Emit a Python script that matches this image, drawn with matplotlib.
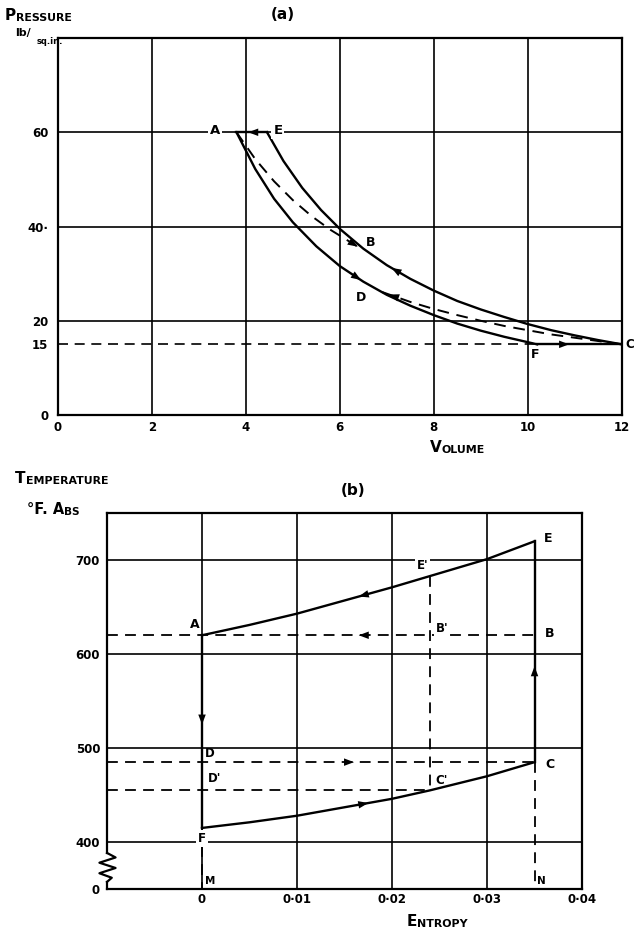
import numpy as np
import matplotlib.pyplot as plt

plt.rcParams['font.weight'] = 'bold'

# ---- (a) pressure / volume diagram ----
vol_ticks = [0, 2, 4, 6, 8, 10, 12]
vol_grid = [2, 4, 6, 8, 10]
p_grid = [20, 40, 60]
p_ticks = [0, 15, 20, 40, 60]
p_tick_labels = ['0', '15', '20', '40·', '60']
p_low = 15

# A -> F (lower full curve)
af_v = [3.8, 4.2, 4.6, 5.0, 5.5, 6.0, 6.5, 7.0, 7.5, 8.0, 8.5, 9.0, 9.5, 10.2]
af_p = [60, 52.2, 45.9, 40.9, 35.8, 31.6, 28.3, 25.5, 23.2, 21.2, 19.4, 17.9, 16.6, 15]
# C -> B -> E (upper full curve)
ec_v = [4.45, 4.8, 5.2, 5.6, 6.0, 6.5, 7.0, 7.5, 8.0, 8.5, 9.0, 9.5, 10.0, 10.5, 11.0, 11.5, 12.0]
ec_p = [60, 53.9, 48.2, 43.5, 39.5, 35.3, 31.8, 28.9, 26.4, 24.2, 22.4, 20.8, 19.3, 18.0, 16.9, 15.9, 15]
# A -> B and C -> D (dashed)
ab_v = [3.8, 4.2, 4.6, 5.0, 5.4, 5.8, 6.4]
ab_p = [60, 54.3, 49.6, 45.6, 42.2, 39.3, 35.6]
dc_v = [6.9, 7.5, 8.0, 8.5, 9.0, 9.5, 10.0, 10.5, 11.0, 11.5, 12.0]
dc_p = [26.1, 24.0, 22.5, 21.2, 20.0, 18.9, 18.0, 17.1, 16.4, 15.7, 15]
# E -> A and F -> C
ea_v = [4.45, 3.8]
ea_p = [60, 60]
fc_v = [10.2, 12.0]
fc_p = [15, 15]

# ---- (b) temperature / entropy diagram ----
s_grid = [0, 0.01, 0.02, 0.03]
s_ticks = [0, 0.01, 0.02, 0.03, 0.04]
s_tick_labels = ['0', '0·01', '0·02', '0·03', '0·04']
t_grid = [400, 500, 600, 700]
t_ticks = [350, 400, 500, 600, 700]
t_tick_labels = ['0', '400', '500', '600', '700']

ae_s = [0, 0.005, 0.01, 0.015, 0.02, 0.024, 0.03, 0.035]
ae_t = [620, 631, 643, 657, 671, 683, 701, 720]
fc_s = [0, 0.005, 0.01, 0.015, 0.02, 0.024, 0.03, 0.035]
fc_t = [415, 421, 428, 437, 446, 455, 470, 485]
s_left = -0.01
s_a, s_c, s_c2 = 0, 0.035, 0.024
t_a, t_f, t_c, t_e, t_e2, t_c2 = 620, 415, 485, 720, 683, 455

LW = 1.7
GW = 1.2
DASH = (0, (6, 4))

fig = plt.figure(figsize=(6.37, 9.32), dpi=100)
ax1 = fig.add_axes([0.091, 0.5547, 0.885, 0.4045])
ax2 = fig.add_axes([0.168, 0.0461, 0.7457, 0.4034])


def arrow(ax, xs, ys, x_tail, x_tip, size=9):
    xs = np.asarray(xs, float)
    ys = np.asarray(ys, float)
    o = np.argsort(xs)
    y0 = np.interp(x_tail, xs[o], ys[o])
    y1 = np.interp(x_tip, xs[o], ys[o])
    ax.annotate('', xy=(x_tip, y1), xytext=(x_tail, y0),
                arrowprops=dict(arrowstyle='-|>,head_length=0.8,head_width=0.3',
                                color='black', lw=0, shrinkA=0, shrinkB=0,
                                mutation_scale=size), zorder=5)


def varrow(ax, x, y_tail, y_tip, size=9):
    ax.annotate('', xy=(x, y_tip), xytext=(x, y_tail),
                arrowprops=dict(arrowstyle='-|>,head_length=0.8,head_width=0.3',
                                color='black', lw=0, shrinkA=0, shrinkB=0,
                                mutation_scale=size), zorder=5)


def caps(ax, x, y, big, small, size=11):
    t = fig.text(x, y, big, fontsize=size, ha='left', va='baseline')
    ax.annotate(small, xy=(1, 0), xycoords=t, ha='left', va='bottom',
                fontsize=size * 0.72, annotation_clip=False)


def label(ax, x, y, s, bg=True, size=9):
    kw = dict(boxstyle='square,pad=0.15', fc='white', ec='none') if bg else None
    ax.text(x, y, s, fontsize=size, ha='center', va='center', bbox=kw, zorder=4)


# ---------- (a) ----------
ax1.set_xlim(0, 12)
ax1.set_ylim(0, 80)
for v in vol_grid:
    ax1.axvline(v, color='black', lw=GW, zorder=1)
for p in p_grid:
    ax1.axhline(p, color='black', lw=GW, zorder=1)
ax1.plot([0, 12], [p_low, p_low], color='black', lw=1.2, ls=DASH, zorder=2)
ax1.plot(af_v, af_p, color='black', lw=LW, zorder=3)
ax1.plot(ec_v, ec_p, color='black', lw=LW, zorder=3)
ax1.plot(ea_v, ea_p, color='black', lw=LW, zorder=3)
ax1.plot(fc_v, fc_p, color='black', lw=LW, zorder=3)
ax1.plot(ab_v, ab_p, color='black', lw=1.4, ls=DASH, zorder=3)
ax1.plot(dc_v, dc_p, color='black', lw=1.4, ls=DASH, zorder=3)

arrow(ax1, ea_v, ea_p, 4.35, 4.05)
arrow(ax1, af_v, af_p, 6.2, 6.45)
arrow(ax1, ab_v, ab_p, 6.1, 6.38)
arrow(ax1, ec_v, ec_p, 7.4, 7.1)
arrow(ax1, dc_v, dc_p, 7.35, 7.05)
arrow(ax1, fc_v, fc_p, 10.6, 10.88)

label(ax1, 3.35, 60.3, 'A', size=9.5)
label(ax1, 4.68, 60.3, 'E', size=9.5)
label(ax1, 6.65, 36.6, 'B', bg=False)
label(ax1, 6.45, 25.0, 'D', bg=False)
label(ax1, 10.15, 12.8, 'F', bg=False)
ax1.text(12.08, 15, 'C', fontsize=8.5, ha='left', va='center', clip_on=False)

ax1.set_xticks(vol_ticks)
ax1.set_xticklabels([str(v) for v in vol_ticks])
ax1.set_yticks(p_ticks)
ax1.set_yticklabels(p_tick_labels)
ax1.tick_params(length=0, labelsize=8.5)
ax1.tick_params(axis='x', pad=4)
ax1.tick_params(axis='y', pad=7)
for sp in ax1.spines.values():
    sp.set_linewidth(1.6)

# ---------- (b) ----------
ax2.set_xlim(s_left, 0.04)
ax2.set_ylim(350, 750)
for s in s_grid:
    ax2.axvline(s, color='black', lw=GW, zorder=1)
for t in t_grid:
    ax2.axhline(t, color='black', lw=GW, zorder=1)

ax2.plot([s_left, s_c], [t_a, t_a], color='black', lw=1.3, ls=DASH, zorder=2)
ax2.plot([s_left, s_c], [t_c, t_c], color='black', lw=1.3, ls=DASH, zorder=2)
ax2.plot([s_left, s_c2], [t_c2, t_c2], color='black', lw=1.3, ls=DASH, zorder=2)
ax2.plot([s_a, s_a], [t_f, 350], color='black', lw=1.3, ls=DASH, zorder=2)
ax2.plot([s_c, s_c], [t_c, 350], color='black', lw=1.3, ls=DASH, zorder=2)
ax2.plot([s_c2, s_c2], [t_e2, t_c2], color='black', lw=1.3, ls=DASH, zorder=2)

ax2.plot(ae_s, ae_t, color='black', lw=LW, zorder=3)
ax2.plot(fc_s, fc_t, color='black', lw=LW, zorder=3)
ax2.plot([s_a, s_a], [t_a, t_f], color='black', lw=LW, zorder=3)
ax2.plot([s_c, s_c], [t_c, t_e], color='black', lw=LW, zorder=3)

arrow(ax2, ae_s, ae_t, 0.0185, 0.0165)
arrow(ax2, fc_s, fc_t, 0.0155, 0.0175)
arrow(ax2, [s_left, s_c], [t_a, t_a], 0.0185, 0.0165)
arrow(ax2, [s_left, s_c], [t_c, t_c], 0.0140, 0.0160)
varrow(ax2, s_a, 545, 525)
varrow(ax2, s_c, 565, 587)

label(ax2, -0.0008, 631, 'A', bg=False)
label(ax2, 0.0364, 723, 'E', bg=False)
label(ax2, 0.0232, 694, "E'", size=8.5)
label(ax2, 0.0253, 627, "B'", size=8.5)
label(ax2, 0.0366, 622, 'B', bg=False)
label(ax2, 0.0366, 483, 'C', bg=False)
label(ax2, 0.0252, 466, "C'", bg=False, size=8.5)
label(ax2, 0.0008, 494, 'D', bg=False, size=8.5)
label(ax2, 0.0013, 468, "D'", bg=False, size=8.5)
label(ax2, 0.0, 404, 'F', size=8.5)
label(ax2, 0.0009, 359, 'M', bg=False, size=7.5)
label(ax2, 0.0357, 359, 'N', bg=False, size=7.5)

ax2.set_xticks(s_ticks)
ax2.set_xticklabels(s_tick_labels)
ax2.set_yticks(t_ticks)
ax2.set_yticklabels(t_tick_labels)
ax2.tick_params(length=0, labelsize=8.5)
ax2.tick_params(axis='x', pad=3)
ax2.tick_params(axis='y', pad=5)
for sp in ax2.spines.values():
    sp.set_linewidth(1.6)

# broken temperature axis drawn by hand
ax2.spines['left'].set_visible(False)
ax2.plot([0, 0], [1, 0.096], transform=ax2.transAxes, color='black', lw=1.6, clip_on=False)
ax2.plot([0, 0], [0.019, 0], transform=ax2.transAxes, color='black', lw=1.6, clip_on=False)
ax2.plot([0, 0.018, -0.016, 0.018, -0.016, 0.01, 0],
         [0.096, 0.084, 0.07, 0.056, 0.042, 0.03, 0.019],
         transform=ax2.transAxes, color='black', lw=1.6, clip_on=False)

# ---------- captions ----------
caps(ax1, 0.008, 0.9785, 'P', 'RESSURE')
fig.text(0.024, 0.961, 'lb/', fontsize=8, ha='left', va='baseline')
fig.text(0.057, 0.953, 'sq.in.', fontsize=6, ha='left', va='baseline')
fig.text(0.444, 0.984, '(a)', fontsize=11, ha='center', va='center')
caps(ax1, 0.675, 0.515, 'V', 'OLUME')
caps(ax2, 0.024, 0.4818, 'T', 'EMPERATURE')
caps(ax2, 0.042, 0.4485, '°F. A', 'BS', size=10.5)
fig.text(0.554, 0.474, '(b)', fontsize=11, ha='center', va='center')
caps(ax2, 0.639, 0.0064, 'E', 'NTROPY')

fig.savefig('out.png', dpi=100)
